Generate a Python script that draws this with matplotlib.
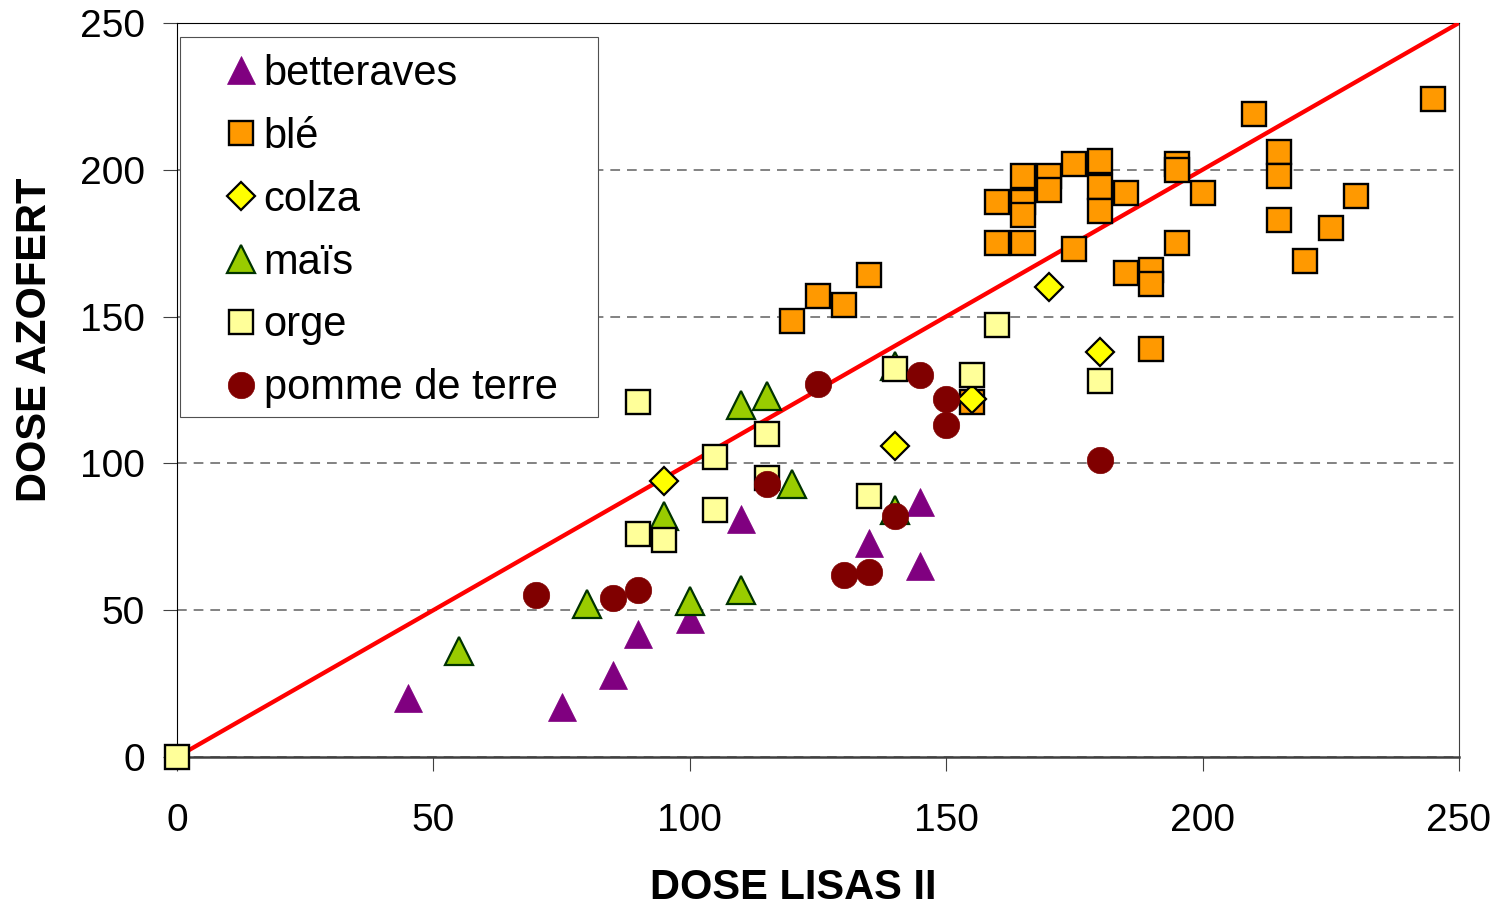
import matplotlib
matplotlib.use('Agg')
import matplotlib.pyplot as plt
from matplotlib.patches import Rectangle

plt.rcParams['font.family'] = ['Liberation Sans', 'DejaVu Sans']
plt.rcParams['lines.scale_dashes'] = False

# data (DOSE LISAS II, DOSE AZOFERT)
bet_x = [45, 75, 85, 90, 100, 110, 135, 145, 145]
bet_y = [20, 17, 28, 42, 47, 81, 73, 65, 87]

ble_x = [120, 125, 130, 135, 155, 160, 160, 165, 165, 165, 165, 170, 170, 175, 175,
         180, 180, 180, 185, 185, 190, 190, 190, 195, 195, 195, 200, 210, 215, 215,
         215, 220, 225, 230, 245]
ble_y = [148.5, 157, 154, 164, 121, 189, 175, 198, 189, 184.5, 175, 198, 193, 202, 173,
         203, 194, 186, 192, 165, 166, 161, 139, 202, 200, 175, 192, 219, 206, 198,
         183, 169, 180, 191, 224]

colza_x = [95, 140, 155, 170, 180]
colza_y = [94, 106, 122, 160, 138]

mais_x = [55, 80, 95, 100, 110, 110, 115, 120, 140, 140]
mais_y = [36, 52, 82, 53, 57, 120, 123, 93, 84, 133]

orge_x = [0, 90, 90, 95, 105, 105, 115, 115, 135, 140, 155, 160, 180]
orge_y = [0, 121, 76, 74, 102, 84, 110, 95, 89, 132, 130, 147, 128]

pdt_x = [70, 85, 90, 115, 125, 130, 135, 140, 145, 150, 150, 180]
pdt_y = [55, 54, 57, 93, 127, 62, 63, 82, 130, 122, 113, 101]

bisect = [0, 250]
ticks = [0, 50, 100, 150, 200, 250]

fig = plt.figure(figsize=(15.02, 9.07), dpi=100)
ax = fig.add_axes([0.1178, 0.1654, 0.8535, 0.8093])

ax.plot(bisect, bisect, color='#FF0000', lw=3.1, zorder=3)

kw = dict(linestyle='none', clip_on=False, zorder=4)
ax.plot(bet_x, bet_y, marker='^', ms=20, mfc='#800080', mec='#800080', mew=0.5,
        label='betteraves', **kw)
ax.plot(ble_x, ble_y, marker='s', ms=17.5, mfc='#FF9900', mec='black', mew=1.7,
        label='blé', **kw)
ax.plot(colza_x, colza_y, marker='D', ms=14, mfc='#FFFF00', mec='black', mew=1.6,
        label='colza', **kw)
ax.plot(mais_x, mais_y, marker='^', ms=19.5, mfc='#99CC00', mec='#003300', mew=1.6,
        label='maïs', **kw)
ax.plot(orge_x, orge_y, marker='s', ms=17.5, mfc='#FFFF99', mec='black', mew=1.7,
        label='orge', **kw)
ax.plot(pdt_x, pdt_y, marker='o', ms=19, mfc='#800000', mec='#800000', mew=0.5,
        label='pomme de terre', **kw)

ax.set_xlim(0, 250)
ax.set_ylim(0, 250)
ax.set_xticks(ticks)
ax.set_yticks(ticks)

ax.set_axisbelow(True)
ax.yaxis.grid(True, color='#606060', lw=1.1, linestyle=(0, (7, 5)))

for s in ['left', 'top']:
    ax.spines[s].set_color('black')
    ax.spines[s].set_linewidth(0.8)
ax.spines['right'].set_color('#404040')
ax.spines['right'].set_linewidth(0.8)
ax.spines['bottom'].set_color('#404040')
ax.spines['bottom'].set_linewidth(1.8)

ax.tick_params(axis='both', direction='out', length=10, width=0.8, color='#404040',
               labelsize=28)
ax.tick_params(axis='x', pad=23)
ax.tick_params(axis='y', pad=13)

ax.set_xlabel('DOSE LISAS II', fontsize=30, fontweight='bold', va='center')
ax.xaxis.set_label_coords(0.481, -0.1785)
ax.set_ylabel('DOSE AZOFERT', fontsize=30, fontweight='bold', va='center', ha='center')
ax.yaxis.set_label_coords(-0.1108, 0.568)

# legend box
box = Rectangle((0.0023, 0.4632), 0.326, 0.5177, transform=ax.transAxes,
                facecolor='white', edgecolor='#505050', lw=0.8, zorder=2.5)
ax.add_patch(box)
ax.legend(loc='upper left', bbox_to_anchor=(0.0335, 0.958), frameon=False,
          fontsize=30, borderpad=0, borderaxespad=0, handlelength=1.0,
          handletextpad=0.05, labelspacing=0.55, numpoints=1)

fig.savefig('out.png', dpi=100)
